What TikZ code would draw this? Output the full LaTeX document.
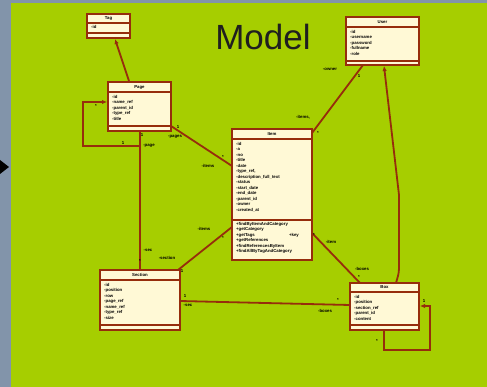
\documentclass[tikz,border=0pt]{standalone}
\usepackage{fontspec}
\setmainfont{Liberation Sans}
\usetikzlibrary{calc,arrows.meta}
\definecolor{slidegreen}{RGB}{166,206,0}
\definecolor{edgegrey}{RGB}{130,148,170}
\definecolor{umlbrown}{RGB}{150,45,12}
\definecolor{umlcream}{RGB}{255,249,214}
\newcommand\umltxt{\fontsize{4.3}{5.5}\selectfont\bfseries}
\begin{document}
\begin{tikzpicture}[x=1pt,y=-1pt,
  umlbox/.style={rectangle, draw=umlbrown, fill=umlcream, line width=2pt, inner sep=0pt, outer sep=0pt},
  sepline/.style={draw=umlbrown, line width=1.3pt},
  assoc/.style={draw=umlbrown, line width=1.8pt},
  tipend/.style={-{Latex[length=5pt,width=4.5pt]}},
  hdr/.style={font=\umltxt, inner sep=0pt},
  attrs/.style={font=\umltxt, inner sep=0pt, anchor=north west, align=left},
  mult/.style={font=\umltxt, inner sep=0pt}]
\useasboundingbox (0,0) rectangle (487,387);
% slide background
\fill[slidegreen] (0,0) rectangle (487,387);
\fill[edgegrey] (0,0) rectangle (11,387);
\fill[edgegrey] (0,0) rectangle (487,3);
\fill[black] (0,160) -- (9,167) -- (0,174) -- cycle;

\node[font=\fontsize{35}{40}\selectfont, text=black!88, anchor=base] (title) at (263,50) {Model};

% ---------- classes ----------
\node[umlbox, minimum width=43pt, minimum height=24pt] (A) at (108.5,26) {};
\draw[sepline] ($(A.north west)+(0,9)$) -- ($(A.north east)+(0,9)$);
\draw[sepline] ($(A.north west)+(0,19)$) -- ($(A.north east)+(0,19)$);
\node[hdr] (Ah) at ($(A.north)+(0,4.5)$) {Tag};
\node[attrs] (Aa) at ($(A.north west)+(4,11)$) {-id};

\node[umlbox, line width=2.6pt, minimum width=63pt, minimum height=49pt] (B) at (139.5,106.5) {};
\draw[sepline] ($(B.north west)+(0,10)$) -- ($(B.north east)+(0,10)$);
\draw[sepline] ($(B.north west)+(0,44)$) -- ($(B.north east)+(0,44)$);
\node[hdr] (Bh) at ($(B.north)+(0,5)$) {Page};
\node[attrs] (Ba) at ($(B.north west)+(4,13)$) {-id\\-name\_ref\\-parent\_id\\-type\_ref\\-title};

\node[umlbox, line width=2.4pt, minimum width=80pt, minimum height=131pt] (C) at (272,194.5) {};
\draw[sepline] ($(C.north west)+(0,10)$) -- ($(C.north east)+(0,10)$);
\draw[sepline] ($(C.north west)+(0,91)$) -- ($(C.north east)+(0,91)$);
\node[hdr] (Ch) at ($(C.north)+(0,5)$) {Item};
\node[attrs] (Ca) at ($(C.north west)+(4,13)$) {-id\\-a\\-no\\-title\\-date\\-type\_ref,\\-description\_full\_text\\-status\\-start\_date\\-end\_date\\-parent\_id\\-owner\\-created\_at};
\node[attrs] (Cm) at ($(C.north west)+(4,93)$) {+findByItemAndCategory\\+getCategory\\+getTags\\+getReferences\\+findReferencesByItem\\+findAllByTagAndCategory};
\node[mult, anchor=north west] (Ck) at ($(C.north west)+(57,104)$) {+key};

\node[umlbox, minimum width=73pt, minimum height=48pt] (D) at (382.5,41) {};
\draw[sepline] ($(D.north west)+(0,10)$) -- ($(D.north east)+(0,10)$);
\draw[sepline] ($(D.north west)+(0,44)$) -- ($(D.north east)+(0,44)$);
\node[hdr] (Dh) at ($(D.north)+(0,5)$) {User};
\node[attrs] (Da) at ($(D.north west)+(4,13)$) {-id\\-username\\-password\\-fullname\\-role};

\node[umlbox, minimum width=80pt, minimum height=60pt] (E) at (140,300) {};
\draw[sepline] ($(E.north west)+(0,10)$) -- ($(E.north east)+(0,10)$);
\draw[sepline] ($(E.north west)+(0,55)$) -- ($(E.north east)+(0,55)$);
\node[hdr] (Eh) at ($(E.north)+(0,5)$) {Section};
\node[attrs] (Ea) at ($(E.north west)+(4,13)$) {-id\\-position\\-row\\-page\_ref\\-name\_ref\\-type\_ref\\-size};

\node[umlbox, minimum width=69pt, minimum height=47pt] (F) at (384.5,306.5) {};
\draw[sepline] ($(F.north west)+(0,9)$) -- ($(F.north east)+(0,9)$);
\draw[sepline] ($(F.north west)+(0,42)$) -- ($(F.north east)+(0,42)$);
\node[hdr] (Fh) at ($(F.north)+(0,4.5)$) {Box};
\node[attrs] (Fa) at ($(F.north west)+(4,12)$) {-id\\-position\\-section\_ref\\-parent\_id\\-content};

% ---------- associations ----------
\draw[assoc, tipend] ($(B.north west)+(21,-1)$) -- ($(A.south west)+(28,1)$);
\draw[assoc, tipend] ($(B.south west)+(32,0)$) -- ++(0,15) -- ++(-57,0) -- ++(0,-44) -- ($(B.west)+(-1,-4.5)$);
\draw[assoc] ($(B.south west)+(32,0)$) -- ($(E.north west)+(40,0)$);
\draw[assoc] ($(B.south east)+(0,-5)$) -- ($(C.north west)+(0,37)$);
\draw[assoc] ($(C.north east)+(0,4)$) -- ($(D.south west)+(17,0)$);
\draw[assoc] ($(C.north west)+(0,98)$) -- ($(E.north east)+(-2,0)$);
\draw[assoc] ($(C.north east)+(0,104)$) -- ($(F.north west)+(10,0)$);
\draw[assoc] ($(E.east)+(0,1)$) -- ($(F.west)+(0,-1.5)$);
\draw[assoc, tipend] ($(F.north west)+(46,0)$) to[out=75,in=-90] ++(3,-15) -- ++(0,-73) -- ($(D.south west)+(38,1)$);
\draw[assoc, tipend] ($(F.south west)+(34,0)$) -- ++(0,20) -- ++(46,0) -- ++(0,-44) -- ($(F.east)+(1,-0.5)$);

% ---------- multiplicities and roles ----------
\node[mult] (m1) at (96,106) {*};
\node[mult] (m2) at (123,143) {1};
\node[mult] (m3) at (142,135) {1};
\node[mult] (r3) at (149,146) {-page};
\node[mult] (m4) at (178,127) {1};
\node[mult] (r4) at (175,137) {-pages};
\node[mult] (m5) at (223,157) {*};
\node[mult] (r5) at (208,166) {-items};
\node[mult] (r6) at (204,229) {-items};
\node[mult] (m6) at (223,238) {*};
\node[mult] (r7) at (148,250) {-sec};
\node[mult] (m7) at (140,261) {*};
\node[mult] (r8) at (167,258) {-section};
\node[mult] (m8) at (182,271) {1};
\node[mult] (m9) at (185,296) {1};
\node[mult] (r9) at (188,305) {-sec};
\node[mult] (m10) at (338,300) {*};
\node[mult] (r10) at (325,311) {-boxes};
\node[mult] (m11) at (318,133) {*};
\node[mult] (r11) at (303,117) {-items,};
\node[mult] (m12) at (359,76) {1};
\node[mult] (r12) at (330,69) {-owner};
\node[mult] (m13) at (314,235) {*};
\node[mult] (r13) at (331,242) {-item};
\node[mult] (m14) at (359,277) {*};
\node[mult] (r14) at (362,269) {-boxes};
\node[mult] (m15) at (424,301) {1};
\node[mult] (m16) at (377,341) {*};
\end{tikzpicture}
\end{document}
